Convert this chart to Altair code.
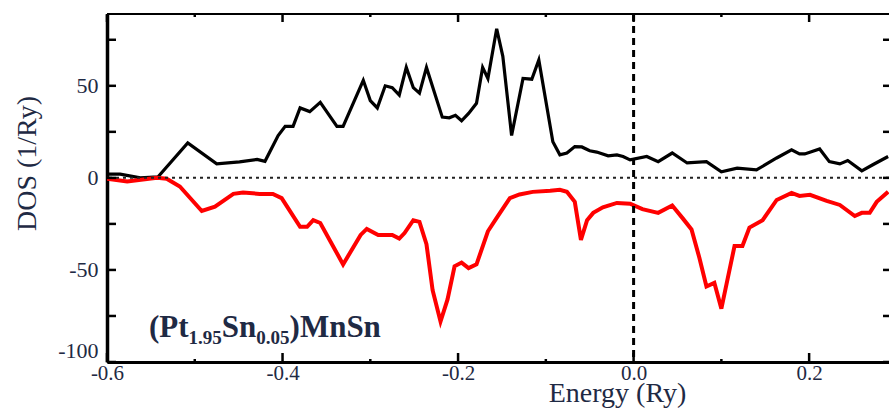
import altair as alt
import pandas as pd

# ---- data ----
energy_up = [-0.600, -0.585, -0.562, -0.542, -0.508, -0.475, -0.449, -0.429, -0.420, -0.405,
             -0.397, -0.388, -0.380, -0.369, -0.357, -0.338, -0.331, -0.308, -0.300, -0.292,
             -0.283, -0.275, -0.267, -0.259, -0.251, -0.244, -0.236, -0.218, -0.210, -0.203,
             -0.196, -0.188, -0.179, -0.172, -0.166, -0.156, -0.149, -0.139, -0.126, -0.116,
             -0.108, -0.092, -0.084, -0.076, -0.067, -0.059, -0.050, -0.042, -0.029, -0.019,
             -0.012, -0.004, 0.015, 0.028, 0.044, 0.061, 0.083, 0.100, 0.118, 0.140,
             0.163, 0.180, 0.189, 0.195, 0.212, 0.223, 0.235, 0.244, 0.260, 0.272, 0.290]
dos_up = [2, 2, 0, 0.5, 19, 7.6, 8.7, 10, 9, 23,
          28, 28, 38, 36, 41, 28, 28, 53, 42, 38,
          50, 49, 45, 60, 49, 46, 60, 33, 32.6, 34,
          31, 35, 40.5, 60, 54, 81, 66, 23, 54, 53.6,
          64, 19.6, 12.5, 13.5, 17, 16.8, 14.7, 14, 12, 12.5,
          11.6, 9.8, 11.6, 8.8, 13.5, 8.1, 8.8, 3.3, 5.3, 4.3,
          10.8, 15.2, 13, 13, 15.7, 8.8, 7.6, 9.4, 3.8, 7, 11.6]

energy_dn = [-0.600, -0.577, -0.543, -0.532, -0.517, -0.492, -0.477, -0.456, -0.445, -0.426,
             -0.411, -0.401, -0.380, -0.372, -0.365, -0.357, -0.331, -0.311, -0.304, -0.291,
             -0.275, -0.267, -0.261, -0.251, -0.244, -0.236, -0.229, -0.220, -0.212, -0.204,
             -0.196, -0.188, -0.179, -0.166, -0.156, -0.141, -0.130, -0.115, -0.095, -0.084,
             -0.076, -0.067, -0.060, -0.053, -0.046, -0.035, -0.019, -0.004, 0.010, 0.028,
             0.044, 0.056, 0.066, 0.075, 0.083, 0.092, 0.100, 0.115, 0.124, 0.132,
             0.147, 0.163, 0.180, 0.189, 0.201, 0.220, 0.235, 0.252, 0.260, 0.269,
             0.277, 0.290]
dos_dn = [-0.5, -2, 0, -0.5, -4.7, -18, -15.6, -8.7, -8, -8.7,
          -8.7, -11, -26.6, -26.6, -23, -24.5, -47, -31, -27.7, -31,
          -31, -33, -30, -23, -23.9, -36, -61, -78, -66, -48,
          -46, -49, -47, -29, -21.7, -11, -9, -7.6, -7, -6.5,
          -7.6, -13, -33.7, -23, -19, -16, -13.6, -14, -17, -19,
          -15, -22, -28, -43.5, -59, -57, -71, -37, -37, -27,
          -23, -12, -8.2, -9.8, -9.2, -12.5, -14.7, -20.7, -19, -19,
          -13, -7.6]

x_label_values = [-0.6, -0.4, -0.2, 0.0, 0.2]
x_minor_values = [-0.5, -0.3, -0.1, 0.1]
y_label_values = [-100, -50, 0, 50]
y_tick_values = [-100, -75, -50, -25, 0, 25, 50, 75]
fermi_level = [0.0]
zero_dos = [0]

label_pieces = ["(Pt", "1.95", "Sn", "0.05", ")MnSn"]
label_is_sub = [False, True, False, True, False]

# ---- styling ----
W, H = 782, 348
FONT = "Liberation Serif, Times New Roman, serif"
TXT = "#1f2a44"
LABEL_EXPR = "replace(datum.label, '\u2212', '-')"

x_scale = alt.Scale(domain=[-0.6, 0.291], nice=False, zero=False)
y_scale = alt.Scale(domain=[-100, 89], nice=False, zero=False)

x_axis = alt.Axis(values=x_label_values, format=".1f", labelExpr=LABEL_EXPR,
                  title="Energy (Ry)", grid=False, ticks=False, tickSize=0,
                  domainWidth=3, domainColor="black",
                  labelFont=FONT, labelFontSize=21, labelColor=TXT, labelPadding=0,
                  labelFlush=False,
                  titleFont=FONT, titleFontSize=28, titleFontWeight="normal", titleColor=TXT,
                  titleX=510, titleY=39, titleAlign="center", titleBaseline="alphabetic")
y_axis = alt.Axis(values=y_label_values, format="d", labelExpr=LABEL_EXPR,
                  title="DOS (1/Ry)", grid=False, ticks=False, tickSize=0,
                  domainWidth=3.5, domainColor="black",
                  labelFont=FONT, labelFontSize=22, labelColor=TXT, labelPadding=9,
                  labelFlush=True,
                  titleFont=FONT, titleFontSize=28, titleFontWeight="normal", titleColor=TXT,
                  titleAngle=270, titleX=-80, titleY=149, titleAlign="center",
                  titleBaseline="middle")

up_df = pd.DataFrame({"energy": energy_up, "dos": dos_up})
dn_df = pd.DataFrame({"energy": energy_dn, "dos": dos_dn})
dummy = pd.DataFrame({"a": [0]})

X = alt.X("energy:Q", scale=x_scale, axis=x_axis)
Y = alt.Y("dos:Q", scale=y_scale, axis=y_axis)

up_line = alt.Chart(up_df).mark_line(color="black", strokeWidth=3.2, clip=True).encode(x=X, y=Y)
dn_line = alt.Chart(dn_df).mark_line(color="#ff0000", strokeWidth=4, clip=True).encode(x=X, y=Y)
zero_line = alt.Chart(pd.DataFrame({"dos": zero_dos})).mark_rule(
    color="#222222", strokeWidth=2, strokeDash=[3, 4]).encode(y=Y)
fermi_line = alt.Chart(pd.DataFrame({"energy": fermi_level})).mark_rule(
    color="black", strokeWidth=3, strokeDash=[7, 5]).encode(x=X)

xmaj = pd.DataFrame({"energy": x_label_values})
xmin = pd.DataFrame({"energy": x_minor_values})
ytk = pd.DataFrame({"dos": y_tick_values})


def xticks(df, y0, y1):
    return alt.Chart(df).mark_rule(color="black", strokeWidth=2.5).encode(
        x=X, y=alt.value(y0), y2=alt.value(y1))


def yticks(x0, x1):
    return alt.Chart(ytk).mark_rule(color="black", strokeWidth=2.5).encode(
        y=Y, x=alt.value(x0), x2=alt.value(x1))


ticks = [
    xticks(xmaj, H, H - 9), xticks(xmin, H, H - 3),
    xticks(xmaj, 0, 8), xticks(xmin, 0, 3),
    yticks(0, 9), yticks(W - 6, W),
]

top_line = alt.Chart(dummy).mark_rule(color="black", strokeWidth=2).encode(
    x=alt.value(0), x2=alt.value(W), y=alt.value(0))

# annotation pieces (main size 31, subscripts 19), Times-bold advance widths
main_size, sub_size = 31, 19
adv = {"(": 0.333, ")": 0.333, "P": 0.611, "t": 0.333, "S": 0.556, "n": 0.556,
       "M": 0.944, ".": 0.25}
texts = []
cx = 42
for piece, sub in zip(label_pieces, label_is_sub):
    size = sub_size if sub else main_size
    texts.append(alt.Chart(dummy).mark_text(
        text=piece, font=FONT, fontSize=size, fontWeight="bold", color=TXT,
        align="left", baseline="alphabetic").encode(
        x=alt.value(cx), y=alt.value(330 if sub else 323)))
    cx += sum(adv.get(c, 0.5) for c in piece) * size

chart = alt.layer(up_line, dn_line, zero_line, fermi_line, *ticks, top_line, *texts).properties(
    width=W, height=H,
    autosize=alt.AutoSizeParams(type="none"),
    padding={"left": 107, "top": 14, "right": 0, "bottom": 47},
    background="white",
).configure_view(stroke=None).configure_axis(grid=False, ticks=False)

chart.save("out.html", embed_options={"renderer": "svg", "actions": False})
